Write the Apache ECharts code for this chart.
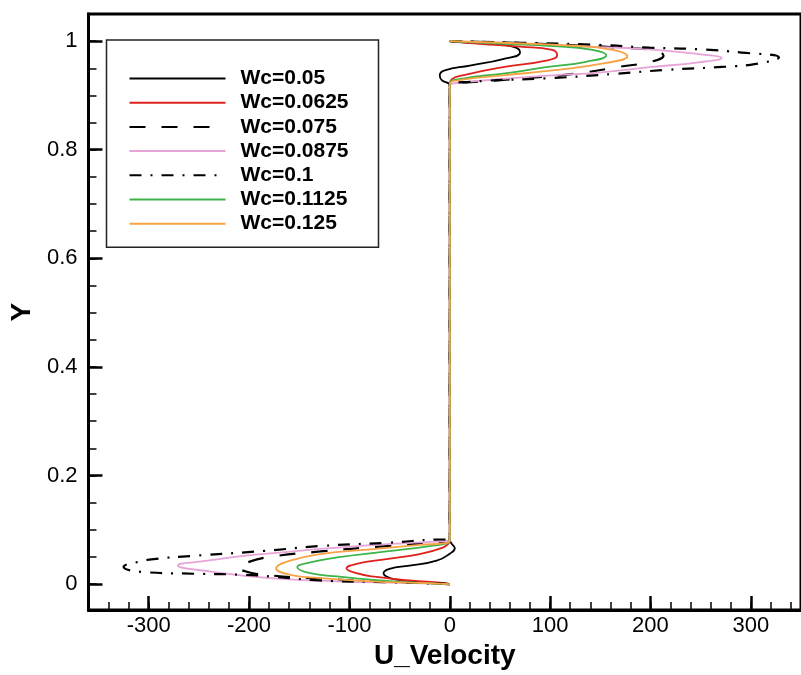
<!DOCTYPE html>
<html><head><meta charset="utf-8">
<script src="https://cdn.jsdelivr.net/npm/echarts@6/dist/echarts.min.js"></script>
<style>html,body{margin:0;padding:0;background:#fff}#c{width:801px;height:675px}</style>
</head><body><div id="c"></div>
<script>
// ---- data: [U_Velocity, Y] points ----
const seriesNames = ['Wc=0.05','Wc=0.0625','Wc=0.075','Wc=0.0875','Wc=0.1','Wc=0.1125','Wc=0.125'];

const wc0050 = [[0,0],[-13,0.001],[-33,0.004],[-53,0.008],[-63,0.014],[-66,0.020],[-60,0.028],[-40,0.034],[-13,0.043],[0,0.056],[5,0.066],[2,0.074],[0,0.082],[0,0.918],[-8,0.928],[-10,0.937],[-5,0.946],[20,0.955],[53,0.967],[70,0.979],[66,0.988],[50,0.994],[20,0.997],[0,1]];
const wc0625 = [[0,0],[-7,0.002],[-40,0.0065],[-73,0.013],[-93,0.020],[-103,0.029],[-93,0.037],[-63,0.046],[-30,0.055],[-7,0.067],[-1,0.075],[0,0.08],[0,0.92],[2,0.93],[13,0.937],[53,0.952],[96,0.964],[107,0.974],[102,0.984],[70,0.99],[30,0.995],[0,1]];
const wc0750 = [[0,0],[-30,0.002],[-79,0.005],[-129,0.010],[-179,0.016],[-203,0.023],[-210,0.031],[-203,0.039],[-179,0.050],[-129,0.060],[-63,0.070],[-3,0.078],[0,0.08],[0,0.92],[3,0.922],[63,0.930],[129,0.941],[170,0.953],[200,0.962],[213,0.973],[200,0.984],[170,0.988],[129,0.992],[63,0.997],[0,1]];
const wc0875 = [[0,0],[-47,0.002],[-112,0.005],[-179,0.011],[-238,0.023],[-271,0.034],[-238,0.044],[-205,0.052],[-170,0.058],[-112,0.067],[-47,0.075],[-3,0.079],[0,0.08],[0,0.92],[3,0.922],[36,0.928],[102,0.937],[149,0.942],[199,0.952],[248,0.961],[271,0.969],[248,0.976],[199,0.985],[149,0.989],[80,0.994],[0,1]];
const wc1000 = [[0,0],[-63,0.0036],[-129,0.0065],[-172,0.013],[-205,0.017],[-255,0.019],[-305,0.022],[-325,0.032],[-310,0.041],[-295,0.046],[-255,0.052],[-185,0.061],[-129,0.070],[-63,0.076],[-3,0.082],[0,0.082],[0,0.918],[20,0.925],[102,0.932],[166,0.940],[215,0.947],[275,0.953],[305,0.958],[328,0.970],[291,0.979],[248,0.985],[199,0.988],[149,0.993],[70,0.997],[0,1]];
const wc1125 = [[0,0],[-30,0.002],[-79,0.008],[-112,0.014],[-139,0.020],[-152,0.031],[-139,0.040],[-112,0.049],[-63,0.060],[-20,0.070],[-3,0.075],[0,0.08],[0,0.92],[13,0.931],[53,0.940],[96,0.952],[136,0.962],[156,0.974],[142,0.984],[102,0.991],[53,0.995],[0,1]];
const wc1250 = [[0,0],[-30,0.002],[-79,0.005],[-129,0.011],[-159,0.017],[-173,0.029],[-159,0.043],[-129,0.055],[-79,0.064],[-30,0.072],[-3,0.076],[0,0.08],[0,0.92],[10,0.928],[53,0.937],[102,0.946],[156,0.960],[177,0.972],[162,0.984],[119,0.992],[53,0.997],[0,1]];

const xMajorTicks = [-300,-200,-100,0,100,200,300];
const yMajorTicks = [0,0.2,0.4,0.6,0.8,1];

// ---- styling ----
const allData = [wc0050, wc0625, wc0750, wc0875, wc1000, wc1125, wc1250];
const styles = [
  {color:'#000000', width:1.8, type:'solid'},
  {color:'#e0201c', width:1.8, type:'solid'},
  {color:'#000000', width:2.2, type:[16,16]},
  {color:'#e6a4d8', width:1.8, type:'solid'},
  {color:'#000000', width:2.2, type:[12,9,2,9]},
  {color:'#3cb44a', width:1.8, type:'solid'},
  {color:'#f7a245', width:1.8, type:'solid'}
];
const xMinorTicks = []; for (let k = -18; k <= 17; k++) xMinorTicks.push(k * 20);
const yMinorTicks = []; for (let k = 0; k <= 20; k++) yMinorTicks.push(Math.round(k * 5) / 100);

const X_MIN = -360, X_MAX = 350, Y_MIN = -0.048, Y_MAX = 1.05;
const FONT = "'Liberation Sans', Arial, sans-serif";

const chart = echarts.init(document.getElementById('c'), null, {renderer:'canvas'});
chart.setOption({
  animation: false,
  backgroundColor: '#ffffff',
  grid: {left: 86.5, top: 14, width: 716, height: 608, show: true, borderColor: '#000', borderWidth: 3, backgroundColor: 'transparent'},
  legend: {
    data: seriesNames,
    orient: 'vertical',
    left: 106.5, top: 40,
    padding: [28, 30, 13, 22],
    itemWidth: 96, itemHeight: 14, itemGap: 3.2,
    borderColor: '#222', borderWidth: 1.5, backgroundColor: '#fff',
    itemStyle: {opacity: 0},
    textStyle: {fontFamily: FONT, fontWeight: 'bold', fontSize: 21, color: '#000', lineHeight: 20, padding: [0,0,0,10]}
  },
  xAxis: [
    {type: 'value', min: X_MIN, max: X_MAX, position: 'bottom',
     name: 'U_Velocity', nameLocation: 'middle', nameGap: 26,
     nameTextStyle: {fontFamily: FONT, fontWeight: 'bold', fontSize: 28, color: '#000'},
     axisLine: {show: true, onZero: false, lineStyle: {color: '#000', width: 3}},
     axisTick: {show: true, inside: true, length: 14, customValues: xMajorTicks, lineStyle: {color: '#000', width: 2.5}},
     axisLabel: {show: true, customValues: xMajorTicks, margin: 5, fontFamily: FONT, fontSize: 22, color: '#000'},
     splitLine: {show: false}},
    {type: 'value', min: X_MIN, max: X_MAX, position: 'bottom',
     axisLine: {show: false, onZero: false}, axisLabel: {show: false}, splitLine: {show: false},
     axisTick: {show: true, inside: true, length: 8, customValues: xMinorTicks, lineStyle: {color: '#000', width: 1.5}}}
  ],
  yAxis: [
    {type: 'value', min: Y_MIN, max: Y_MAX, position: 'left',
     name: 'Y', nameLocation: 'middle', nameGap: 43, nameRotate: 90,
     nameTextStyle: {fontFamily: FONT, fontWeight: 'bold', fontSize: 28, color: '#000'},
     axisLine: {show: true, onZero: false, lineStyle: {color: '#000', width: 3}},
     axisTick: {show: true, inside: true, length: 14, customValues: yMajorTicks, lineStyle: {color: '#000', width: 2.5}},
     axisLabel: {show: true, customValues: yMajorTicks, margin: 11, fontFamily: FONT, fontSize: 22, color: '#000'},
     splitLine: {show: false}},
    {type: 'value', min: Y_MIN, max: Y_MAX, position: 'left',
     axisLine: {show: false, onZero: false}, axisLabel: {show: false}, splitLine: {show: false},
     axisTick: {show: true, inside: true, length: 8, customValues: yMinorTicks, lineStyle: {color: '#000', width: 1.5}}}
  ],
  series: allData.map((d, i) => ({
    name: seriesNames[i],
    type: 'line',
    xAxisIndex: 0, yAxisIndex: 0,
    data: d,
    symbol: 'none',
    smooth: 0.5,
    clip: true,
    lineStyle: {color: styles[i].color, width: styles[i].width, type: styles[i].type},
    itemStyle: {color: styles[i].color}
  }))
});
</script></body></html>
